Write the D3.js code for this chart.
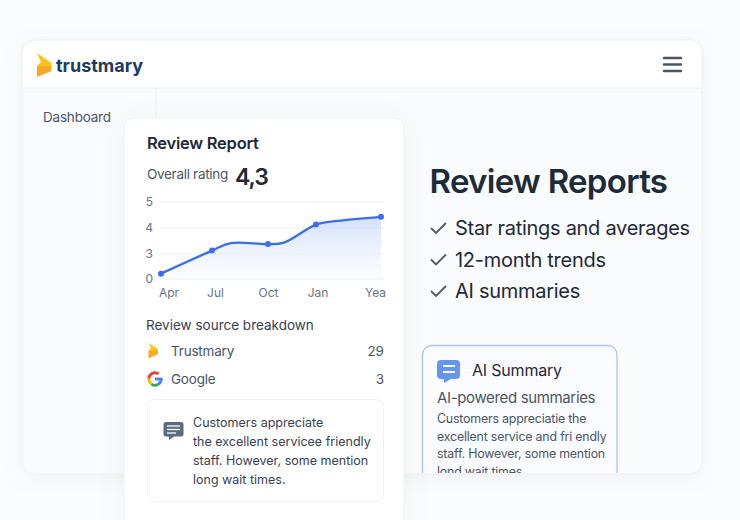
<!DOCTYPE html>
<html>
<head>
<meta charset="utf-8">
<script src="https://cdn.jsdelivr.net/npm/d3@7"></script>
<style>
  html, body { margin: 0; padding: 0; background: #fbfcfd; overflow: hidden; }
  text { font-family: Inter, "Noto Sans", sans-serif; }
  .tick text { font-family: Inter, "Noto Sans", sans-serif; }
</style>
</head>
<body>
<div id="graph"></div>
<script>
// labelled points on the trend line
const tickMonths = [0, 3, 6, 9, 12];
const tickLabels = ['Apr', 'Jul', 'Oct', 'Jan', 'Yea'];
const ratingTicks = [0, 3, 4, 5];
// monthly values, dots only on the labelled months
const months = [0, 3, 4, 6, 7, 9, 10, 12];
const ratings = [0.64, 3.13, 3.42, 3.38, 3.44, 4.13, 4.27, 4.43];

const sources = ['Trustmary', 'Google'];
const sourceCounts = [29, 3];

const checklist = ['Star ratings and averages', '12-month trends', 'AI summaries'];
const summaryLines = ['Customers appreciate', 'the excellent servicee friendly', 'staff. However, some mention', 'long wait times.'];
const aiLines = ['Customers appreciatie the', 'excellent service and fri endly', 'staff. However, some mention', 'lond wait times.'];

const svg = d3.select('#graph').append('svg')
  .attr('width', 740)
  .attr('height', 520)
  .style('display', 'block');

const defs = svg.append('defs');
const blur = (id, dev) => defs.append('filter').attr('id', id)
  .attr('x', '-20%').attr('y', '-20%').attr('width', '140%').attr('height', '140%')
  .append('feDropShadow').attr('dx', 0).attr('dy', 4).attr('stdDeviation', dev)
  .attr('flood-color', '#64748b').attr('flood-opacity', 0.08);
blur('panelShadow', 10);
blur('cardShadow', 12);

const grad = defs.append('linearGradient').attr('id', 'areaFill')
  .attr('x1', 0).attr('x2', 0).attr('y1', 0).attr('y2', 1);
grad.append('stop').attr('offset', '0%').attr('stop-color', '#c9d8fa').attr('stop-opacity', 0.8);
grad.append('stop').attr('offset', '100%').attr('stop-color', '#dfe8fd').attr('stop-opacity', 0.1);

defs.append('clipPath').attr('id', 'panelClip')
  .append('rect').attr('x', 22).attr('y', 40).attr('width', 680).attr('height', 433).attr('rx', 12);

// outer app panel
svg.append('rect').attr('x', 22).attr('y', 40).attr('width', 680).attr('height', 434).attr('rx', 12)
  .attr('fill', '#f9fbfd').attr('stroke', '#eceff3').attr('filter', 'url(#panelShadow)');
svg.append('path').attr('d', 'M22 88V52a12 12 0 0 1 12-12H690a12 12 0 0 1 12 12V88Z')
  .attr('fill', '#ffffff').attr('stroke', '#eceff3');
svg.append('line').attr('x1', 156).attr('x2', 156).attr('y1', 88).attr('y2', 120).attr('stroke', '#eceff3');

// logo
const logo = svg.append('g');
logo.append('path').attr('d', 'M37 53L51.5 63V66L37 66L41 62Z').attr('fill', '#fcc419');
logo.append('path').attr('d', 'M37 66H51.5V71L37 77Z').attr('fill', '#f9a825');
svg.append('text').attr('x', 56).attr('y', 71.5).text('trustmary')
  .attr('font-size', 18).attr('font-weight', 700).attr('fill', '#1d3b63');

// menu icon
[58, 64.5, 71].forEach(y => {
  svg.append('line').attr('x1', 664).attr('x2', 681).attr('y1', y).attr('y2', y)
    .attr('stroke', '#4b5563').attr('stroke-width', 2.4).attr('stroke-linecap', 'round');
});

svg.append('text').attr('x', 43).attr('y', 122).text('Dashboard')
  .attr('font-size', 13.5).attr('letter-spacing', -0.2).attr('fill', '#4b5563');

// right column
svg.append('text').attr('x', 429.5).attr('y', 193).text('Review Reports')
  .attr('font-size', 33).attr('letter-spacing', -0.7).attr('font-weight', 600).attr('fill', '#1e2b38');

const checkY = d3.scalePoint().domain(checklist).range([235, 298]);
checklist.forEach(d => {
  const y = checkY(d);
  svg.append('path').attr('d', `M431 ${y - 7}l5 5l10 -10`)
    .attr('fill', 'none').attr('stroke', '#4b5a6b').attr('stroke-width', 1.8);
  svg.append('text').attr('x', 455).attr('y', y).text(d)
    .attr('font-size', 20).attr('letter-spacing', -0.28).attr('fill', '#1f2937');
});

// AI summary card, cut off by the panel edge
const ai = svg.append('g').attr('clip-path', 'url(#panelClip)');
ai.append('rect').attr('x', 422.5).attr('y', 345.5).attr('width', 194.5).attr('height', 160).attr('rx', 9)
  .attr('fill', '#fbfcff').attr('stroke', '#a9c4f5').attr('stroke-width', 1.3);
ai.append('path').attr('d', 'M441 360H456a4 4 0 0 1 4 4V375a4 4 0 0 1 -4 4H451L444 383V379H441a4 4 0 0 1 -4 -4V364a4 4 0 0 1 4 -4Z')
  .attr('fill', '#6495f0');
[366, 372].forEach(y => {
  ai.append('line').attr('x1', 443).attr('x2', 455).attr('y1', y).attr('y2', y)
    .attr('stroke', '#ffffff').attr('stroke-width', 2);
});
ai.append('text').attr('x', 472).attr('y', 376).text('AI Summary')
  .attr('font-size', 16).attr('letter-spacing', -0.2).attr('fill', '#1f2937');
ai.append('text').attr('x', 437).attr('y', 402.5).text('AI-powered summaries')
  .attr('font-size', 15).attr('letter-spacing', -0.35).attr('fill', '#4b5563');
ai.selectAll('text.line').data(aiLines).enter().append('text')
  .attr('class', 'line')
  .attr('x', 437)
  .attr('y', (d, i) => 423 + i * 17.6)
  .attr('font-size', 12.4)
  .attr('letter-spacing', -0.2)
  .attr('fill', '#4b5563')
  .text(d => d);

// main report card
svg.append('rect').attr('x', 124).attr('y', 118).attr('width', 280).attr('height', 430).attr('rx', 10)
  .attr('fill', '#ffffff').attr('stroke', '#eef1f4').attr('filter', 'url(#cardShadow)');

svg.append('text').attr('x', 147).attr('y', 149).text('Review Report')
  .attr('font-size', 16.5).attr('letter-spacing', -0.25).attr('font-weight', 600).attr('fill', '#1f2937');
svg.append('text').attr('x', 147).attr('y', 179).text('Overall rating')
  .attr('font-size', 13.5).attr('letter-spacing', -0.3).attr('fill', '#4b5563');
svg.append('text').attr('x', 235).attr('y', 185).text('4,3')
  .attr('font-size', 23).attr('letter-spacing', -1).attr('font-weight', 600).attr('fill', '#1f2937');

// chart scales, the rating ticks are evenly spaced although the values are not
const xScale = d3.scaleLinear().domain(tickMonths).range([161, 212, 268, 316, 381]);
const yScale = d3.scaleLinear().domain(ratingTicks).range([279, 254, 228, 202]);

const yAxis = d3.axisLeft(yScale).tickValues(ratingTicks).tickFormat(d3.format('d')).tickSize(0).tickPadding(0);
const yG = svg.append('g').attr('transform', 'translate(153,0)').call(yAxis);
yG.select('.domain').remove();
yG.selectAll('text').attr('font-size', 12).attr('fill', '#6b7280');

const xAxis = d3.axisBottom(xScale).tickValues(tickMonths)
  .tickFormat((d, i) => tickLabels[i]).tickSize(0).tickPadding(0);
const xG = svg.append('g').attr('transform', 'translate(0,288)').call(xAxis);
xG.select('.domain').remove();
xG.selectAll('text').attr('font-size', 12).attr('fill', '#6b7280')
  .attr('transform', (d, i) => `translate(${[7.5, 3, 0, 1.5, -6][i]},0)`);

svg.append('g').selectAll('line').data(ratingTicks).enter().append('line')
  .attr('x1', 160).attr('x2', 384)
  .attr('y1', d => yScale(d)).attr('y2', d => yScale(d))
  .attr('stroke', '#eceef2');

const points = months.map((m, i) => [m, ratings[i]]);
const area = d3.area().x(d => xScale(d[0])).y0(yScale(0)).y1(d => yScale(d[1])).curve(d3.curveCatmullRom.alpha(0.5));
const line = d3.line().x(d => xScale(d[0])).y(d => yScale(d[1])).curve(d3.curveCatmullRom.alpha(0.5));

svg.append('path').datum(points).attr('d', area).attr('fill', 'url(#areaFill)');
svg.append('path').datum(points).attr('d', line)
  .attr('fill', 'none').attr('stroke', '#3b6ee8').attr('stroke-width', 2.3);
svg.append('g').selectAll('circle')
  .data(points.filter(d => tickMonths.includes(d[0])))
  .enter().append('circle')
  .attr('cx', d => xScale(d[0]))
  .attr('cy', d => yScale(d[1]))
  .attr('r', 3)
  .attr('fill', '#3b6ee8');

// source breakdown
svg.append('text').attr('x', 146).attr('y', 330).text('Review source breakdown')
  .attr('font-size', 13.5).attr('fill', '#374151');

const sourceY = d3.scalePoint().domain(sources).range([356, 384]);
sources.forEach((d, i) => {
  svg.append('text').attr('x', 171).attr('y', sourceY(d)).text(d)
    .attr('font-size', 13.5).attr('letter-spacing', -0.2).attr('fill', '#4b5563');
  svg.append('text').attr('x', 384).attr('y', sourceY(d)).text(sourceCounts[i])
    .attr('font-size', 13.5).attr('fill', '#4b5563').attr('text-anchor', 'end');
});

// trustmary mark
svg.append('path').attr('d', 'M148.5 343L158 349V351L148.5 351L151 348Z').attr('fill', '#fcc419');
svg.append('path').attr('d', 'M148.5 351H158V354L148.5 358.5Z').attr('fill', '#f9a825');

// google mark
const gArc = d3.arc().innerRadius(4.8).outerRadius(7.6);
const gCenter = svg.append('g').attr('transform', 'translate(155,379)');
[
  [Math.PI * 0.5, Math.PI * 0.82, '#4285f4'],
  [Math.PI * 0.82, Math.PI * 1.2, '#34a853'],
  [Math.PI * 1.2, Math.PI * 1.52, '#fbbc05'],
  [Math.PI * 1.52, Math.PI * 2.2, '#ea4335']
].forEach(s => {
  gCenter.append('path').attr('d', gArc({ startAngle: s[0], endAngle: s[1] })).attr('fill', s[2]);
});
gCenter.append('rect').attr('x', 0).attr('y', -1.4).attr('width', 7.6).attr('height', 2.8).attr('fill', '#4285f4');

// summary box
svg.append('rect').attr('x', 147.5).attr('y', 399.5).attr('width', 236).attr('height', 102).attr('rx', 7)
  .attr('fill', '#ffffff').attr('stroke', '#eef0f3');
svg.append('path').attr('d', 'M166 422H181a2.5 2.5 0 0 1 2.5 2.5V434a2.5 2.5 0 0 1 -2.5 2.5H174L169 440V436.5H166a2.5 2.5 0 0 1 -2.5 -2.5V424.5a2.5 2.5 0 0 1 2.5 -2.5Z')
  .attr('fill', '#5a6b82');
[426, 429.5, 433].forEach((y, i) => {
  svg.append('line').attr('x1', 167).attr('x2', i === 2 ? 176 : 180).attr('y1', y).attr('y2', y)
    .attr('stroke', '#ffffff').attr('stroke-width', 1.3);
});
svg.append('g').selectAll('text').data(summaryLines).enter().append('text')
  .attr('x', 193)
  .attr('y', (d, i) => 427 + i * 19)
  .attr('font-size', 12.5)
  .attr('fill', '#374151')
  .text(d => d);
</script>
</body>
</html>
